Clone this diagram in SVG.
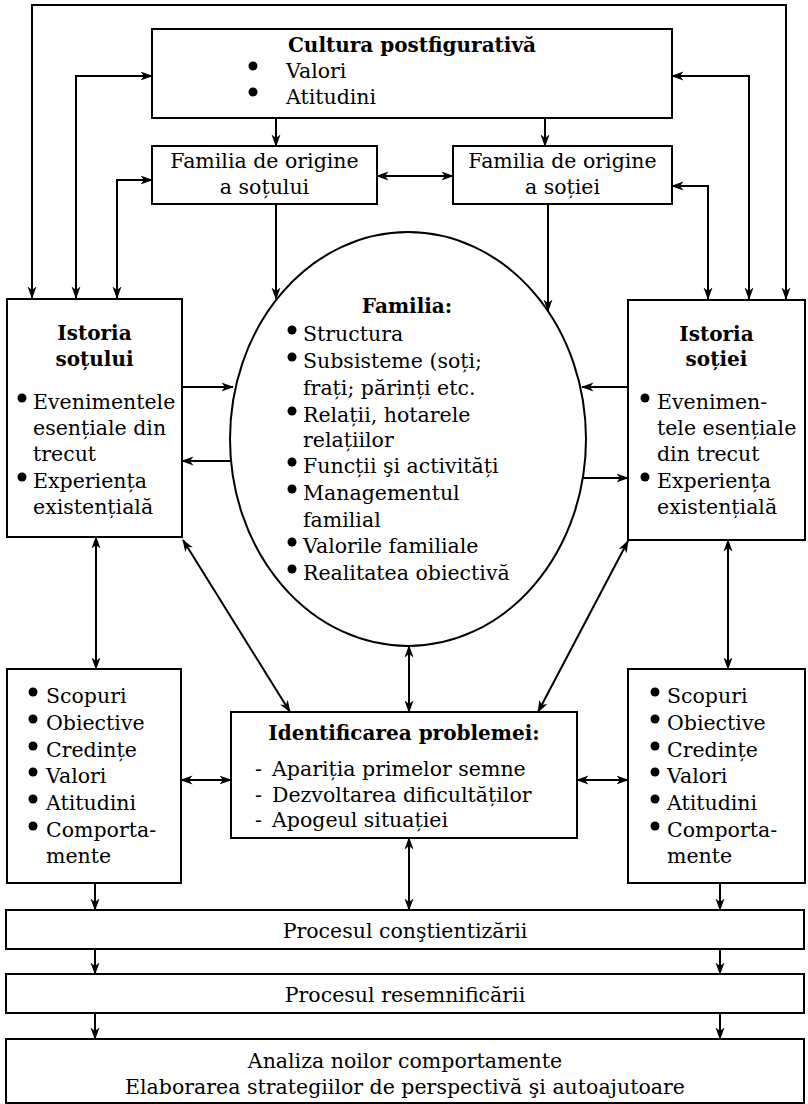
<svg xmlns="http://www.w3.org/2000/svg" width="808" height="1104" viewBox="0 0 808 1104">
<defs>
<style>
.box{fill:#fff;stroke:#000;stroke-width:2}
.ln{fill:none;stroke:#000;stroke-width:2}
.a1{marker-end:url(#ah)}
.a2{marker-start:url(#ah);marker-end:url(#ah)}
.t{font-family:"DejaVu Serif","Liberation Serif",serif;font-size:20.5px;fill:#000}
.b{font-weight:bold;font-size:20px}
.c{text-anchor:middle}
.dot{fill:#000}
</style>
<marker id="ah" markerWidth="13" markerHeight="10" refX="11.5" refY="5" orient="auto-start-reverse" markerUnits="userSpaceOnUse" viewBox="0 0 13 10">
<path d="M0,0.5 L12.5,5 L0,9.5 L3.5,5 Z" fill="#000"/>
</marker>
</defs>
<rect width="808" height="1104" fill="#fff"/>

<g id="connectors">
<path class="ln a2" d="M32,298 V5 H786 V299"/>
<path class="ln a2" d="M76,298 V76 H152"/>
<path class="ln a2" d="M749,299 V76 H672"/>
<path class="ln a2" d="M117,298 V180 H152"/>
<path class="ln a2" d="M708,299 V186 H672"/>
<path class="ln a1" d="M276,118 V146"/>
<path class="ln a1" d="M545,118 V146"/>
<path class="ln a2" d="M377,176 H453"/>
<path class="ln a1" d="M276,204 V299"/>
<path class="ln a1" d="M548,204 V311"/>
<path class="ln a1" d="M182,387 H233"/>
<path class="ln a1" d="M233,461 H182"/>
<path class="ln a1" d="M628,387 H582"/>
<path class="ln a1" d="M582,478 H628"/>
<path class="ln a2" d="M96,537 V669"/>
<path class="ln a2" d="M728,540 V669"/>
<path class="ln a2" d="M183,540 L290,712"/>
<path class="ln a2" d="M628,541 L538,712"/>
<path class="ln a2" d="M409,646 V712"/>
<path class="ln a2" d="M181,780 H231"/>
<path class="ln a2" d="M577,780 H628"/>
<path class="ln a2" d="M409,838 V910"/>
<path class="ln a1" d="M95,883 V910"/>
<path class="ln a1" d="M720,883 V910"/>
<path class="ln a1" d="M95,949 V974"/>
<path class="ln a1" d="M720,949 V974"/>
<path class="ln a1" d="M95,1013 V1039"/>
<path class="ln a1" d="M720,1013 V1039"/>
</g>

<g id="cultura">
<rect class="box" x="152" y="29" width="520" height="89"/>
<text class="t b c" x="412" y="52">Cultura postfigurativă</text>
<circle class="dot" cx="253" cy="66" r="4.5"/>
<text class="t" x="286" y="78">Valori</text>
<circle class="dot" cx="253" cy="92" r="4.5"/>
<text class="t" x="286" y="104">Atitudini</text>
</g>

<g id="origine-sot">
<rect class="box" x="152" y="146" width="225" height="58"/>
<text class="t c" x="264.5" y="168">Familia de origine</text>
<text class="t c" x="264.5" y="194">a soțului</text>
</g>

<g id="origine-sotie">
<rect class="box" x="453" y="146" width="219" height="58"/>
<text class="t c" x="562.5" y="168">Familia de origine</text>
<text class="t c" x="562.5" y="194">a soției</text>
</g>

<g id="istoria-sot">
<rect class="box" x="7" y="299" width="175" height="238"/>
<text class="t b c" x="94.5" y="340">Istoria</text>
<text class="t b c" x="94.5" y="366">soțului</text>
<circle class="dot" cx="22" cy="398" r="4.5"/>
<text class="t" x="33" y="409">Evenimentele</text>
<text class="t" x="33" y="435">esențiale din</text>
<text class="t" x="33" y="461">trecut</text>
<circle class="dot" cx="22" cy="477" r="4.5"/>
<text class="t" x="33" y="488">Experiența</text>
<text class="t" x="33" y="514">existențială</text>
</g>

<g id="istoria-sotie">
<rect class="box" x="628" y="300" width="177" height="240"/>
<text class="t b c" x="716.5" y="341">Istoria</text>
<text class="t b c" x="716.5" y="366">soției</text>
<circle class="dot" cx="645" cy="398" r="4.5"/>
<text class="t" x="657" y="409">Evenimen-</text>
<text class="t" x="657" y="435">tele esențiale</text>
<text class="t" x="657" y="461">din trecut</text>
<circle class="dot" cx="645" cy="477" r="4.5"/>
<text class="t" x="657" y="488">Experiența</text>
<text class="t" x="657" y="514">existențială</text>
</g>

<g id="familia">
<ellipse class="box" cx="408" cy="439" rx="178" ry="207"/>
<text class="t b c" x="407" y="313">Familia:</text>
<circle class="dot" cx="292" cy="330" r="4.5"/>
<text class="t" x="303" y="341">Structura</text>
<circle class="dot" cx="292" cy="357" r="4.5"/>
<text class="t" x="303" y="368">Subsisteme (soți;</text>
<text class="t" x="303" y="395">frați; părinți etc.</text>
<circle class="dot" cx="292" cy="411" r="4.5"/>
<text class="t" x="303" y="422">Relații, hotarele</text>
<text class="t" x="303" y="447">relațiilor</text>
<circle class="dot" cx="292" cy="462" r="4.5"/>
<text class="t" x="303" y="473">Funcții şi activități</text>
<circle class="dot" cx="292" cy="489" r="4.5"/>
<text class="t" x="303" y="500">Managementul</text>
<text class="t" x="303" y="527">familial</text>
<circle class="dot" cx="292" cy="542" r="4.5"/>
<text class="t" x="303" y="553">Valorile familiale</text>
<circle class="dot" cx="292" cy="569" r="4.5"/>
<text class="t" x="303" y="580">Realitatea obiectivă</text>
</g>

<g id="scopuri-sot">
<rect class="box" x="7" y="669" width="174" height="214"/>
<circle class="dot" cx="33" cy="692" r="4.5"/>
<text class="t" x="46" y="703">Scopuri</text>
<circle class="dot" cx="33" cy="719" r="4.5"/>
<text class="t" x="46" y="730">Obiective</text>
<circle class="dot" cx="33" cy="746" r="4.5"/>
<text class="t" x="46" y="757">Credințe</text>
<circle class="dot" cx="33" cy="772" r="4.5"/>
<text class="t" x="46" y="783">Valori</text>
<circle class="dot" cx="33" cy="799" r="4.5"/>
<text class="t" x="46" y="810">Atitudini</text>
<circle class="dot" cx="33" cy="826" r="4.5"/>
<text class="t" x="46" y="837">Comporta-</text>
<text class="t" x="46" y="863">mente</text>
</g>

<g id="identificarea">
<rect class="box" x="231" y="712" width="346" height="126"/>
<text class="t b c" x="404" y="740">Identificarea problemei:</text>
<text class="t" x="255" y="776">-</text>
<text class="t" x="272" y="776">Apariția primelor semne</text>
<text class="t" x="255" y="802">-</text>
<text class="t" x="272" y="802">Dezvoltarea dificultăților</text>
<text class="t" x="255" y="827">-</text>
<text class="t" x="272" y="827">Apogeul situației</text>
</g>

<g id="scopuri-sotie">
<rect class="box" x="628" y="669" width="177" height="214"/>
<circle class="dot" cx="655" cy="692" r="4.5"/>
<text class="t" x="667" y="703">Scopuri</text>
<circle class="dot" cx="655" cy="719" r="4.5"/>
<text class="t" x="667" y="730">Obiective</text>
<circle class="dot" cx="655" cy="746" r="4.5"/>
<text class="t" x="667" y="757">Credințe</text>
<circle class="dot" cx="655" cy="772" r="4.5"/>
<text class="t" x="667" y="783">Valori</text>
<circle class="dot" cx="655" cy="799" r="4.5"/>
<text class="t" x="667" y="810">Atitudini</text>
<circle class="dot" cx="655" cy="826" r="4.5"/>
<text class="t" x="667" y="837">Comporta-</text>
<text class="t" x="667" y="863">mente</text>
</g>

<g id="constientizare">
<rect class="box" x="6" y="910" width="798" height="39"/>
<text class="t c" x="405" y="938">Procesul conştientizării</text>
</g>

<g id="resemnificare">
<rect class="box" x="6" y="974" width="798" height="39"/>
<text class="t c" x="405" y="1002">Procesul resemnificării</text>
</g>

<g id="analiza">
<rect class="box" x="6" y="1039" width="798" height="64"/>
<text class="t c" x="405" y="1068">Analiza noilor comportamente</text>
<text class="t c" x="405" y="1094">Elaborarea strategiilor de perspectivă şi autoajutoare</text>
</g>
</svg>
